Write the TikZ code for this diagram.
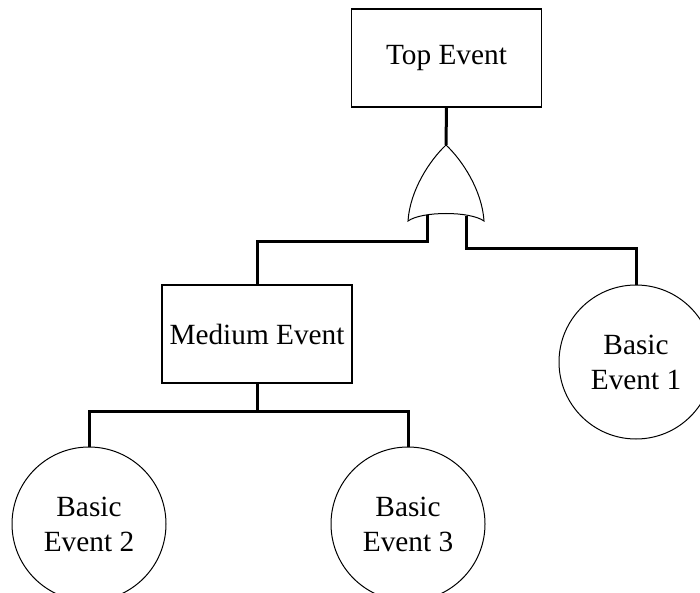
\documentclass[tikz,border=0pt]{standalone}
\usepackage{fontspec}
\setmainfont{Liberation Serif}
\begin{document}
\begin{tikzpicture}[x=1pt,y=-1pt,
  evbox/.style={draw, line width=1.1pt, minimum width=190pt, minimum height=98pt, inner sep=2pt,
    font=\fontsize{29.3}{35}\selectfont},
  basic/.style={draw, circle, line width=1pt, minimum size=154pt, inner sep=0pt, align=center,
    font=\fontsize{29.3}{35}\selectfont},
  wire/.style={line width=3pt, line join=miter},
  gate/.style={line width=1pt}]
  \useasboundingbox (0,0) rectangle (700,593);
  \clip (0,0) rectangle (700,593);

  % events
  \node[evbox] (top) at (446.5,58) {Top Event};
  \node[evbox] (mid) at (257,334) {Medium Event};
  \node[basic] (be1) at (636,362) {Basic\\Event 1};
  \node[basic] (be2) at (89,524) {Basic\\Event 2};
  \node[basic] (be3) at (408,524) {Basic\\Event 3};

  % OR gate
  \coordinate (gtip) at (446,145);
  \coordinate (gl) at (408,221);
  \coordinate (gr) at (484,221);
  \coordinate (gin1) at (427,215);
  \coordinate (gin2) at (466,216);
  \draw[gate] (gl) .. controls (410,190) and (430,160) .. (gtip)
              .. controls (462,160) and (482,190) .. (gr)
              .. controls (470,211) and (422,211) .. (gl) -- cycle;

  % connectors
  \draw[wire] (top.south) -- (gtip);
  \draw[wire] (gin1) -- ++(0,27) -| (mid.north);
  \draw[wire] (gin2) -- ++(0,33) -| (be1.north);
  \draw[wire] (mid.south) -- ++(0,28) coordinate (split);
  \draw[wire] (be2.north) |- (split) -| (be3.north);
\end{tikzpicture}
\end{document}
